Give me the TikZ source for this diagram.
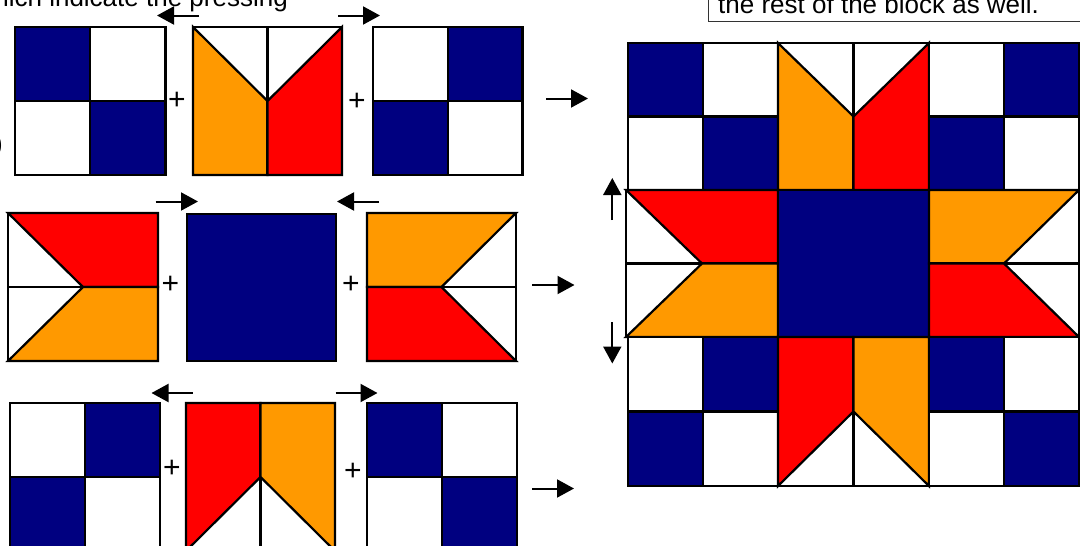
\documentclass[tikz,border=0pt]{standalone}
\usepackage{fontspec}
\setmainfont{Liberation Sans}
\usetikzlibrary{arrows.meta}
\definecolor{qnavy}{RGB}{0,0,128}
\definecolor{qgold}{RGB}{255,153,0}
\definecolor{qred}{RGB}{255,0,0}
\tikzset{
  patch/.style={draw=black, line width=2.2pt, line join=miter},
  pa/.style={line width=2pt, -{Triangle[length=17pt,width=18pt]}},
  txt/.style={font=\fontsize{26}{30}\selectfont, inner sep=0pt},
  pl/.style={font=\fontsize{30}{34}\selectfont, inner sep=0pt},
  boxline/.style={draw=black!80, line width=1.2pt}
}
% four-patch: #5 = top-left & bottom-right, #6 = top-right & bottom-left
\newcommand\fourp[6]{%
  \pgfmathsetmacro\qxm{(#1+#3)/2}\pgfmathsetmacro\qym{(#2+#4)/2}%
  \filldraw[patch,fill=#5] (#1,#2) rectangle (\qxm,\qym);
  \filldraw[patch,fill=#6] (\qxm,#2) rectangle (#3,\qym);
  \filldraw[patch,fill=#6] (#1,\qym) rectangle (\qxm,#4);
  \filldraw[patch,fill=#5] (\qxm,\qym) rectangle (#3,#4);}
% geese pointing down (white V on top)
\newcommand\geeseV[4]{%
  \pgfmathsetmacro\qxm{(#1+#3)/2}\pgfmathsetmacro\qym{(#2+#4)/2}%
  \filldraw[patch,fill=white] (#1,#2) rectangle (\qxm,#4);
  \filldraw[patch,fill=qgold] (#1,#2) -- (\qxm,\qym) -- (\qxm,#4) -- (#1,#4) -- cycle;
  \filldraw[patch,fill=white] (\qxm,#2) rectangle (#3,#4);
  \filldraw[patch,fill=qred] (#3,#2) -- (#3,#4) -- (\qxm,#4) -- (\qxm,\qym) -- cycle;}
% geese pointing up (white triangles at bottom)
\newcommand\geeseA[4]{%
  \pgfmathsetmacro\qxm{(#1+#3)/2}\pgfmathsetmacro\qym{(#2+#4)/2}%
  \filldraw[patch,fill=white] (#1,#2) rectangle (\qxm,#4);
  \filldraw[patch,fill=qred] (#1,#2) -- (\qxm,#2) -- (\qxm,\qym) -- (#1,#4) -- cycle;
  \filldraw[patch,fill=white] (\qxm,#2) rectangle (#3,#4);
  \filldraw[patch,fill=qgold] (\qxm,#2) -- (#3,#2) -- (#3,#4) -- (\qxm,\qym) -- cycle;}
% geese with white triangles on the left
\newcommand\geeseL[4]{%
  \pgfmathsetmacro\qxm{(#1+#3)/2}\pgfmathsetmacro\qym{(#2+#4)/2}%
  \filldraw[patch,fill=white] (#1,#2) rectangle (#3,\qym);
  \filldraw[patch,fill=qred] (#1,#2) -- (#3,#2) -- (#3,\qym) -- (\qxm,\qym) -- cycle;
  \filldraw[patch,fill=white] (#1,\qym) rectangle (#3,#4);
  \filldraw[patch,fill=qgold] (\qxm,\qym) -- (#3,\qym) -- (#3,#4) -- (#1,#4) -- cycle;}
% geese with white triangles on the right
\newcommand\geeseR[4]{%
  \pgfmathsetmacro\qxm{(#1+#3)/2}\pgfmathsetmacro\qym{(#2+#4)/2}%
  \filldraw[patch,fill=white] (#1,#2) rectangle (#3,\qym);
  \filldraw[patch,fill=qgold] (#1,#2) -- (#3,#2) -- (\qxm,\qym) -- (#1,\qym) -- cycle;
  \filldraw[patch,fill=white] (#1,\qym) rectangle (#3,#4);
  \filldraw[patch,fill=qred] (#1,\qym) -- (\qxm,\qym) -- (#3,#4) -- (#1,#4) -- cycle;}
\begin{document}
\begin{tikzpicture}[x=1pt,y=-1pt]
\useasboundingbox (0,0) rectangle (1080,546);
\clip (0,0) rectangle (1080,546);

% texts cut by the frame
\node[txt, anchor=base east] (head) at (288,6) {hich indicate the pressing};
\draw[boxline] (708.7,-30) rectangle (1100,21.7);
\node[txt, anchor=base west] (note) at (718,13.5) {the rest of the block as well.};
\node[txt, anchor=base east] (paren) at (3,152) {)};

% row 1
\fourp{15}{27}{165.5}{175}{qnavy}{white}
\geeseV{193}{27}{342}{175}
\fourp{373}{27}{522.5}{175}{white}{qnavy}
\node[pl] (p1) at (177,101) {+};
\node[pl] (p2) at (357,102) {+};

% row 2
\geeseL{8}{213}{158}{361}
\filldraw[patch,fill=qnavy] (187,214) rectangle (336,361);
\geeseR{367}{213}{516}{361}
\node[pl] (p3) at (170.5,285) {+};
\node[pl] (p4) at (351,285) {+};

% row 3
\fourp{9.6}{403}{160}{551}{white}{qnavy}
\geeseA{186}{403}{335}{551}
\fourp{367}{403}{517}{551}{qnavy}{white}
\node[pl] (p5) at (172,469) {+};
\node[pl] (p6) at (353,471.5) {+};

% finished block
\fourp{628}{43}{778}{190}{qnavy}{white}
\geeseV{778}{43}{929}{190}
\fourp{929}{43}{1079}{190}{white}{qnavy}
\geeseL{626}{190}{778}{337}
\filldraw[patch,fill=qnavy] (778,190) rectangle (929,337);
\geeseR{929}{190}{1079}{337}
\fourp{628}{337}{778}{486}{white}{qnavy}
\geeseA{778}{337}{929}{486}
\fourp{929}{337}{1079}{486}{qnavy}{white}

% pressing arrows
\coordinate (a1t) at (199,15.5);   \coordinate (a1h) at (157,15.5);
\coordinate (a2t) at (338,15.5);   \coordinate (a2h) at (380,15.5);
\coordinate (a3t) at (546,98.5);   \coordinate (a3h) at (588,98.5);
\coordinate (b1t) at (155.5,201.5); \coordinate (b1h) at (198,201.5);
\coordinate (b2t) at (379,201.5);  \coordinate (b2h) at (337,201.5);
\coordinate (b3t) at (532,285);    \coordinate (b3h) at (574.5,285);
\coordinate (c1t) at (192.5,393);  \coordinate (c1h) at (151.5,393);
\coordinate (c2t) at (335.5,393);  \coordinate (c2h) at (377.5,393);
\coordinate (c3t) at (532,488.5);  \coordinate (c3h) at (574,488.5);
\coordinate (u1t) at (612.3,220);  \coordinate (u1h) at (612.3,178);
\coordinate (d1t) at (612.3,322);  \coordinate (d1h) at (612.3,363.5);
\foreach \s in {a1,a2,a3,b1,b2,b3,c1,c2,c3,u1,d1}
  \draw[pa] (\s t) -- (\s h);
\end{tikzpicture}
\end{document}
